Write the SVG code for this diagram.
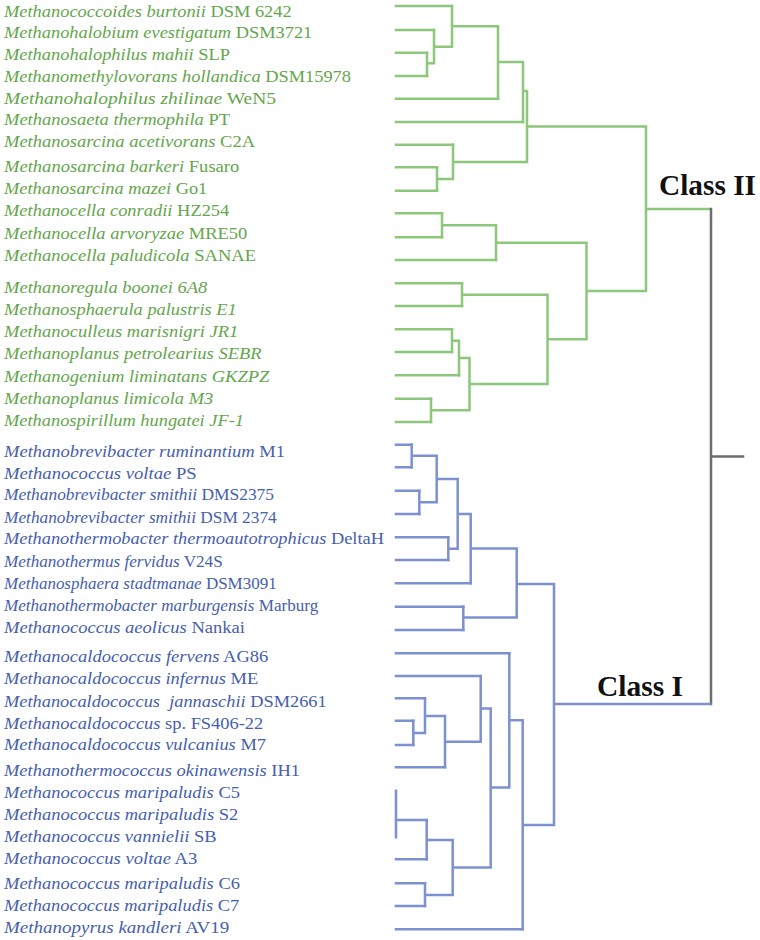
<svg xmlns="http://www.w3.org/2000/svg" width="760" height="940" viewBox="0 0 760 940">
<style>
text{font-family:"Liberation Serif","Times New Roman",serif;font-size:16.5px}
.g{fill:#64a64c}
.b{fill:#4660ad}
.i{font-style:italic}
.lg{stroke:#8dc77b;stroke-width:2.5;fill:none;stroke-linecap:square}
.lb{stroke:#7d90d2;stroke-width:2.5;fill:none;stroke-linecap:square}
.lk{stroke:#6e6e6e;stroke-width:2.5;fill:none;stroke-linecap:square}
.cls{font-size:29px;font-weight:bold;fill:#111}
</style>
<rect width="760" height="940" fill="#fff"/>
<g id="connectors">
<path class="lg" d="M396 6H452M396 30H434M396 52.7H427M396 76H427M396 98.7H498M396 122H523M396 144.7H453M396 167.3H437M396 190.7H437M396 213.3H442M396 237.3H442M396 260H496M396 283.3H462M396 306H462M396 329.3H452M396 352H452M396 375.3H459M396 398.7H431M396 422H431"/>
<path class="lg" d="M427 52.7V76M427 63.3H434M434 30V63.3M434 46.7H452M452 6V46.7M452 26.3H498M498 26.3V98.7M498 62H523M523 62V122M523 91H527M437 167.3V190.7M437 179H453M453 144.7V179M453 162H527M527 91V162M527 126.5H646M442 213.3V237.3M442 225.3H496M496 225.3V260M496 242.7H586.5M462 283.3V306M462 294.7H547.5M452 329.3V352M452 340.7H459M459 340.7V375.3M459 358H469.5M431 398.7V422M431 410.3H469.5M469.5 358V410.3M469.5 384H547.5M547.5 294.7V384M547.5 339.3H586.5M586.5 242.7V339.3M586.5 291H646M646 126.5V291M646 209H710"/>
<path class="lk" d="M711 209V704M711 456.5H743"/>
<path class="lb" d="M396 444.7H411.7M396 467.3H411.7M396 490.7H419.3M396 514H419.3M396 537.3H448.3M396 560H448.3M396 583.3H470.7M396 606.7H463.3M396 630H463.3M396 653.3H509.3M396 676H480.7M396 698.3H425M396 720.7H413.3M396 745H413.3M396 767.3H445M396 790.7V837.3M396 820H426.7M396 859.3H426.7M396 883.3H425M396 906H425M396 929.3H522.7"/>
<path class="lb" d="M411.7 444.7V467.3M411.7 455.7H436.7M419.3 490.7V514M419.3 502.3H436.7M436.7 455.7V502.3M436.7 479H457.7M448.3 537.3V560M448.3 548.7H457.7M457.7 479V548.7M457.7 514H470.7M470.7 514V583.3M470.7 548.5H516.7M463.3 606.7V630M463.3 617.5H516.7M516.7 548.5V617.5M516.7 584H554M413.3 720.7V745M413.3 733H425M425 698.3V733M425 716H445M445 716V767.3M445 741.7H480.7M480.7 676V741.7M480.7 708.5H490.7M426.7 820V859.3M426.7 840H452.7M425 883.3V906M425 895H452.7M452.7 840V895M452.7 867.5H490.7M490.7 708.5V867.5M490.7 787.5H509.3M509.3 653.3V787.5M509.3 720.3H522.7M522.7 720.3V929.3M522.7 825H554M554 584V825M554 704H710"/>
</g>
<g id="class-labels">
<text id="classII" class="cls" x="659" y="195" textLength="97" lengthAdjust="spacingAndGlyphs">Class II</text>
<text id="classI" class="cls" x="597" y="695.5" textLength="86" lengthAdjust="spacingAndGlyphs">Class I</text>
</g>
<g id="class-II-taxa">
<g id="g1"><text class="g" x="4" y="17" textLength="287.7" lengthAdjust="spacingAndGlyphs"><tspan class="i">Methanococcoides burtonii</tspan> DSM 6242</text></g>
<g id="g2"><text class="g" x="4" y="38" textLength="308.3" lengthAdjust="spacingAndGlyphs"><tspan class="i">Methanohalobium evestigatum</tspan> DSM3721</text></g>
<g id="g3"><text class="g" x="4" y="60" textLength="226" lengthAdjust="spacingAndGlyphs"><tspan class="i">Methanohalophilus mahii</tspan> SLP</text></g>
<g id="g4"><text class="g" x="4" y="82" textLength="347" lengthAdjust="spacingAndGlyphs"><tspan class="i">Methanomethylovorans hollandica</tspan> DSM15978</text></g>
<g id="g5"><text class="g" x="4" y="103.5" textLength="272" lengthAdjust="spacingAndGlyphs"><tspan class="i">Methanohalophilus zhilinae</tspan> WeN5</text></g>
<g id="g6"><text class="g" x="4" y="124.5" textLength="226" lengthAdjust="spacingAndGlyphs"><tspan class="i">Methanosaeta thermophila</tspan> PT</text></g>
<g id="g7"><text class="g" x="4" y="147" textLength="251" lengthAdjust="spacingAndGlyphs"><tspan class="i">Methanosarcina acetivorans</tspan> C2A</text></g>
<g id="g8"><text class="g" x="4" y="172" textLength="235.3" lengthAdjust="spacingAndGlyphs"><tspan class="i">Methanosarcina barkeri</tspan> Fusaro</text></g>
<g id="g9"><text class="g" x="4" y="194" textLength="203.3" lengthAdjust="spacingAndGlyphs"><tspan class="i">Methanosarcina mazei</tspan> Go1</text></g>
<g id="g10"><text class="g" x="4" y="216" textLength="225.3" lengthAdjust="spacingAndGlyphs"><tspan class="i">Methanocella conradii</tspan> HZ254</text></g>
<g id="g11"><text class="g" x="4" y="238.5" textLength="243.3" lengthAdjust="spacingAndGlyphs"><tspan class="i">Methanocella arvoryzae</tspan> MRE50</text></g>
<g id="g12"><text class="g" x="4" y="260.5" textLength="252" lengthAdjust="spacingAndGlyphs"><tspan class="i">Methanocella paludicola</tspan> SANAE</text></g>
<g id="g13"><text class="g i" x="4" y="292.5" textLength="203.3" lengthAdjust="spacingAndGlyphs">Methanoregula boonei 6A8</text></g>
<g id="g14"><text class="g i" x="4" y="315" textLength="232.7" lengthAdjust="spacingAndGlyphs">Methanosphaerula palustris E1</text></g>
<g id="g15"><text class="g i" x="4" y="337" textLength="234.3" lengthAdjust="spacingAndGlyphs">Methanoculleus marisnigri JR1</text></g>
<g id="g16"><text class="g i" x="4" y="359" textLength="257.7" lengthAdjust="spacingAndGlyphs">Methanoplanus petrolearius SEBR</text></g>
<g id="g17"><text class="g i" x="4" y="381.5" textLength="265.3" lengthAdjust="spacingAndGlyphs">Methanogenium liminatans GKZPZ</text></g>
<g id="g18"><text class="g i" x="4" y="403.5" textLength="209.3" lengthAdjust="spacingAndGlyphs">Methanoplanus limicola M3</text></g>
<g id="g19"><text class="g i" x="4" y="426" textLength="240" lengthAdjust="spacingAndGlyphs">Methanospirillum hungatei JF-1</text></g>
</g>
<g id="class-I-taxa">
<g id="b1"><text class="b" x="4" y="456.5" textLength="281" lengthAdjust="spacingAndGlyphs"><tspan class="i">Methanobrevibacter ruminantium</tspan> M1</text></g>
<g id="b2"><text class="b" x="4" y="478.5" textLength="192.7" lengthAdjust="spacingAndGlyphs"><tspan class="i">Methanococcus voltae</tspan> PS</text></g>
<g id="b3"><text class="b" x="4" y="500" textLength="270" lengthAdjust="spacingAndGlyphs"><tspan class="i">Methanobrevibacter smithii</tspan> DMS2375</text></g>
<g id="b4"><text class="b" x="4" y="522.5" textLength="272.7" lengthAdjust="spacingAndGlyphs"><tspan class="i">Methanobrevibacter smithii</tspan> DSM 2374</text></g>
<g id="b5"><text class="b" x="4" y="544" textLength="380" lengthAdjust="spacingAndGlyphs"><tspan class="i">Methanothermobacter thermoautotrophicus</tspan> DeltaH</text></g>
<g id="b6"><text class="b" x="4" y="566.5" textLength="218.7" lengthAdjust="spacingAndGlyphs"><tspan class="i">Methanothermus fervidus</tspan> V24S</text></g>
<g id="b7"><text class="b" x="4" y="588.5" textLength="272.7" lengthAdjust="spacingAndGlyphs"><tspan class="i">Methanosphaera stadtmanae</tspan> DSM3091</text></g>
<g id="b8"><text class="b" x="4" y="611" textLength="314.3" lengthAdjust="spacingAndGlyphs"><tspan class="i">Methanothermobacter marburgensis</tspan> Marburg</text></g>
<g id="b9"><text class="b" x="4" y="632.5" textLength="241" lengthAdjust="spacingAndGlyphs"><tspan class="i">Methanococcus aeolicus</tspan> Nankai</text></g>
<g id="b10"><text class="b" x="4" y="661.5" textLength="264.3" lengthAdjust="spacingAndGlyphs"><tspan class="i">Methanocaldococcus fervens</tspan> AG86</text></g>
<g id="b11"><text class="b" x="4" y="684" textLength="254.3" lengthAdjust="spacingAndGlyphs"><tspan class="i">Methanocaldococcus infernus</tspan> ME</text></g>
<g id="b12"><text class="b" x="4" y="706.5" xml:space="preserve" textLength="322.7" lengthAdjust="spacingAndGlyphs"><tspan class="i">Methanocaldococcus  jannaschii</tspan> DSM2661</text></g>
<g id="b13"><text class="b" x="4" y="728.5" textLength="259.3" lengthAdjust="spacingAndGlyphs"><tspan class="i">Methanocaldococcus</tspan> sp. FS406-22</text></g>
<g id="b14"><text class="b" x="4" y="750" textLength="262" lengthAdjust="spacingAndGlyphs"><tspan class="i">Methanocaldococcus vulcanius</tspan> M7</text></g>
<g id="b15"><text class="b" x="4" y="775.5" textLength="296" lengthAdjust="spacingAndGlyphs"><tspan class="i">Methanothermococcus okinawensis</tspan> IH1</text></g>
<g id="b16"><text class="b" x="4" y="797.5" textLength="236" lengthAdjust="spacingAndGlyphs"><tspan class="i">Methanococcus maripaludis</tspan> C5</text></g>
<g id="b17"><text class="b" x="4" y="819.5" textLength="234.3" lengthAdjust="spacingAndGlyphs"><tspan class="i">Methanococcus maripaludis</tspan> S2</text></g>
<g id="b18"><text class="b" x="4" y="841.5" textLength="212.7" lengthAdjust="spacingAndGlyphs"><tspan class="i">Methanococcus vannielii</tspan> SB</text></g>
<g id="b19"><text class="b" x="4" y="863.5" textLength="193.3" lengthAdjust="spacingAndGlyphs"><tspan class="i">Methanococcus voltae</tspan> A3</text></g>
<g id="b20"><text class="b" x="4" y="889" textLength="236" lengthAdjust="spacingAndGlyphs"><tspan class="i">Methanococcus maripaludis</tspan> C6</text></g>
<g id="b21"><text class="b" x="4" y="911" textLength="235.3" lengthAdjust="spacingAndGlyphs"><tspan class="i">Methanococcus maripaludis</tspan> C7</text></g>
<g id="b22"><text class="b" x="4" y="932.5" textLength="225.3" lengthAdjust="spacingAndGlyphs"><tspan class="i">Methanopyrus kandleri</tspan> AV19</text></g>
</g>
</svg>
